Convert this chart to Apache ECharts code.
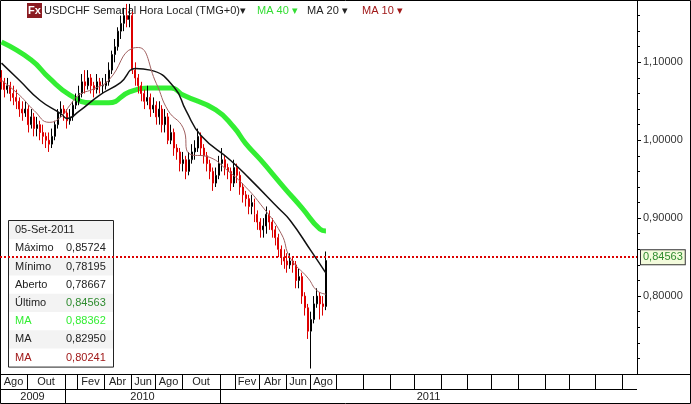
<!DOCTYPE html>
<html><head><meta charset="utf-8">
<script src="https://cdn.jsdelivr.net/npm/echarts@6/dist/echarts.min.js"></script>
<style>html,body{margin:0;padding:0;background:#fff}#c{width:691px;height:404px}</style>
</head><body><div id="c"></div>
<script>
const startDate = '2009-08-03';
const weekCount = 214;
const closes = [1.075,1.065,1.07,1.06,1.055,1.05,1.04,1.035,1.04,1.02,1.03,1.015,1.02,1.01,1.005,1.00,0.995,1.005,1.02,1.035,1.04,1.035,1.025,1.03,1.045,1.05,1.06,1.075,1.07,1.08,1.07,1.065,1.075,1.07,1.07,1.075,1.09,1.11,1.12,1.14,1.15,1.16,1.155,1.16,1.09,1.08,1.07,1.06,1.05,1.055,1.04,1.045,1.03,1.04,1.02,1.03,1.00,1.01,0.99,0.985,0.97,0.975,0.96,0.975,0.985,0.99,1.005,0.99,0.98,0.97,0.96,0.945,0.955,0.97,0.975,0.965,0.96,0.945,0.965,0.955,0.94,0.93,0.925,0.915,0.92,0.905,0.895,0.885,0.89,0.905,0.895,0.885,0.875,0.86,0.85,0.845,0.84,0.845,0.84,0.82,0.825,0.80,0.785,0.755,0.77,0.79,0.80,0.79,0.78667,0.84563];
const firstOpen = 1.08;
const highs = [1.09,1.08,1.08,1.075,1.07,1.065,1.055,1.05,1.05,1.045,1.04,1.035,1.03,1.025,1.02,1.01,1.01,1.015,1.025,1.04,1.05,1.045,1.04,1.04,1.05,1.06,1.07,1.085,1.09,1.09,1.085,1.075,1.085,1.08,1.08,1.085,1.10,1.115,1.13,1.145,1.16,1.17,1.175,1.175,1.165,1.10,1.085,1.075,1.065,1.07,1.06,1.055,1.05,1.05,1.045,1.04,1.035,1.02,1.015,0.995,0.99,0.985,0.98,0.985,0.995,1.00,1.015,1.01,0.995,0.985,0.975,0.965,0.965,0.98,0.99,0.98,0.97,0.965,0.975,0.97,0.96,0.945,0.935,0.93,0.93,0.925,0.91,0.90,0.90,0.915,0.91,0.90,0.89,0.88,0.865,0.86,0.855,0.855,0.85,0.845,0.835,0.83,0.805,0.79,0.78,0.80,0.81,0.805,0.80,0.85724];
const lows = [1.065,1.055,1.06,1.05,1.045,1.04,1.03,1.025,1.03,1.01,1.015,1.005,1.005,1.0,0.995,0.99,0.985,0.99,1.0,1.015,1.03,1.025,1.015,1.02,1.025,1.04,1.045,1.055,1.06,1.065,1.06,1.055,1.06,1.06,1.06,1.065,1.07,1.085,1.10,1.115,1.13,1.14,1.145,1.145,1.085,1.07,1.06,1.05,1.04,1.045,1.03,1.035,1.02,1.02,1.01,1.01,0.995,0.995,0.98,0.975,0.96,0.96,0.95,0.955,0.97,0.975,0.985,0.98,0.97,0.96,0.95,0.935,0.94,0.95,0.96,0.955,0.95,0.935,0.94,0.945,0.93,0.92,0.915,0.905,0.905,0.895,0.885,0.875,0.875,0.88,0.885,0.875,0.865,0.85,0.84,0.835,0.83,0.835,0.83,0.81,0.81,0.79,0.775,0.745,0.707,0.765,0.785,0.77,0.775,0.78195];
const ma40 = [[0,1.126],[9.6,1.103],[16.3,1.080],[23,1.058],[29.7,1.048],[36.4,1.048],[43.1,1.062],[49.8,1.067],[56.5,1.067],[60.9,1.058],[72.3,1.039],[77.7,1.017],[82.4,0.996],[86.7,0.975],[94.5,0.939],[101.2,0.913],[106.9,0.886],[109,0.88362]];
const ma20 = [[0,1.099],[6.2,1.077],[12.9,1.051],[19.6,1.034],[22.3,1.028],[26.3,1.037],[33,1.058],[39.8,1.074],[44.8,1.092],[49.8,1.090],[58.2,1.068],[62.3,1.038],[66.6,1.006],[76.7,0.974],[83.4,0.952],[92.5,0.913],[96.8,0.897],[103.5,0.858],[109,0.82950]];
const ma10 = [[0,1.077],[6.2,1.058],[11.2,1.038],[16.3,1.023],[19.6,1.030],[23,1.045],[26.3,1.058],[31.4,1.066],[36.4,1.077],[43.8,1.118],[45.5,1.119],[52.2,1.073],[55.5,1.038],[60.9,1.016],[63.3,0.983],[70,0.978],[75.7,0.961],[81.1,0.944],[86.7,0.918],[93.5,0.88],[96.8,0.849],[102.5,0.823],[105.9,0.807],[109,0.80241]];
const lastPrice = 0.84563;
const monthCells = [['2009-08','Ago'],['2009-10','Out'],['2010-01',''],['2010-02','Fev'],['2010-04','Abr'],['2010-06','Jun'],['2010-08','Ago'],['2010-10','Out'],['2011-01',''],['2011-02','Fev'],['2011-04','Abr'],['2011-06','Jun'],['2011-08','Ago'],['2011-10',''],['2011-12',''],['2012-02',''],['2012-04',''],['2012-06',''],['2012-08',''],['2012-10',''],['2012-12',''],['2013-02',''],['2013-04',''],['2013-06',''],['2013-08','']];
const yearCells = [['2009-08','2009'],['2010-01','2010'],['2011-01','2011']];
const infoRows = [['05-Set-2011','','#222'],['Máximo','0,85724','#222'],['Mínimo','0,78195','#222'],['Aberto','0,78667','#222'],['Último','0,84563','#2e8b2e'],['MA','0,88362','#33ee33'],['MA','0,82950','#222'],['MA','0,80241','#a01818']];

const dates = [];
{ const d0 = new Date(startDate + 'T00:00:00Z');
  for (let i = 0; i < weekCount; i++) { const d = new Date(d0.getTime() + i*7*864e5); dates.push(d.toISOString().slice(0,10)); } }
const ohlc = closes.map((c,i)=>[i===0?firstOpen:closes[i-1], c, lows[i], highs[i]]);
const fmt = v => v.toFixed(5).replace('.', ',');
const F = 'Liberation Sans, Arial, sans-serif';

const chart = echarts.init(document.getElementById('c'));
chart.setOption({
  animation:false,
  grid:{left:0,right:54,top:0,bottom:30},
  xAxis:{type:'category',data:dates,boundaryGap:true,show:false},
  yAxis:{type:'value',position:'right',min:0.7,max:1.18,interval:0.1,
    axisLine:{show:true,lineStyle:{color:'#000'}},
    axisTick:{show:true,length:4,lineStyle:{color:'#000'}},
    minorTick:{show:true,splitNumber:5,length:3,lineStyle:{color:'#000'}},
    splitLine:{show:false},
    axisLabel:{showMinLabel:false,showMaxLabel:false,color:'#333',fontFamily:F,fontSize:11,margin:6,formatter:v=>fmt(v)}},
  series:[
    {type:'candlestick',data:ohlc,barMaxWidth:3,
      itemStyle:{color:'#ffffff',color0:'#dd0000',borderColor:'#000',borderColor0:'#dd0000',borderWidth:1},
      markLine:{symbol:'none',silent:true,data:[{yAxis:lastPrice}],
        lineStyle:{color:'#dd0000',type:[2,2],width:2},
        label:{position:'end',distance:4,formatter:()=>fmt(lastPrice),color:'#2e8b2e',fontFamily:F,fontSize:11,
          backgroundColor:'#f3fbdc',borderColor:'#333',borderWidth:1,padding:[2,2,1,2]}}},
    {type:'line',data:ma40,smooth:true,symbol:'none',lineStyle:{color:'#33ee33',width:5,cap:'butt'},z:1},
    {type:'line',data:ma20,smooth:true,symbol:'none',lineStyle:{color:'#111',width:1.5}},
    {type:'line',data:ma10,smooth:true,symbol:'none',lineStyle:{color:'#a06060',width:1}}
  ]
});

function idxOf(ym){ return dates.findIndex(d=>d>=ym+'-01'); }
const p0 = chart.convertToPixel({xAxisIndex:0},0), p1 = chart.convertToPixel({xAxisIndex:0},1);
const band = p1-p0;
const gridRight = chart.convertToPixel({xAxisIndex:0},weekCount-1)+band/2;
function bx(ym){ const i=idxOf(ym); return i<0?gridRight:Math.round(chart.convertToPixel({xAxisIndex:0},i)-band/2); }
const yTop = chart.convertToPixel({yAxisIndex:0},0.7);
const g = [];
const r1 = Math.round(yTop)+0.5, r2 = r1+15, r3 = 403.5;
g.push({type:'line',shape:{x1:0,y1:r2,x2:gridRight,y2:r2},style:{stroke:'#000'}});
g.push({type:'line',shape:{x1:0,y1:r1,x2:690,y2:r1},style:{stroke:'#000'}});
monthCells.forEach((m,i)=>{
  const x0 = bx(m[0]); const x1 = i+1<monthCells.length?bx(monthCells[i+1][0]):gridRight;
  if (x0>0) g.push({type:'line',shape:{x1:x0+0.5,y1:r1,x2:x0+0.5,y2:r2},style:{stroke:'#000'}});
  if (m[1]) g.push({type:'text',x:(x0+Math.min(x1,gridRight))/2,y:(r1+r2)/2,style:{text:m[1],align:'center',verticalAlign:'middle',font:'11px '+F,fill:'#222'}});
});
yearCells.forEach((m,i)=>{
  const x0 = bx(m[0]); const x1 = i+1<yearCells.length?bx(yearCells[i+1][0]):Math.round(gridRight);
  if (x0>0) g.push({type:'line',shape:{x1:x0+0.5,y1:r2,x2:x0+0.5,y2:r3},style:{stroke:'#000'}});
  g.push({type:'text',x:(x0+x1)/2,y:(r2+r3)/2,style:{text:m[1],align:'center',verticalAlign:'middle',font:'11px '+F,fill:'#222'}});
});
g.push({type:'rect',shape:{x:0.5,y:0.5,width:690,height:403},style:{fill:'none',stroke:'#000'}});
// title
g.push({type:'rect',shape:{x:27,y:3,width:15,height:15},style:{fill:'#8b1c22'}});
g.push({type:'text',x:34.5,y:11,style:{text:'Fx',align:'center',verticalAlign:'middle',font:'bold 11px '+F,fill:'#fff'}});
g.push({type:'text',x:44,y:11,style:{text:'USDCHF Semanal Hora Local (TMG+0)▾',verticalAlign:'middle',font:'11px '+F,fill:'#222'}});
g.push({type:'text',x:257,y:11,style:{text:'MA 40 ▾',verticalAlign:'middle',font:'11px '+F,fill:'#33dd33'}});
g.push({type:'text',x:307,y:11,style:{text:'MA 20 ▾',verticalAlign:'middle',font:'11px '+F,fill:'#222'}});
g.push({type:'text',x:362,y:11,style:{text:'MA 10 ▾',verticalAlign:'middle',font:'11px '+F,fill:'#a01818'}});
// info box
const bxl=8, byt=221, rh=18.2;
infoRows.forEach((r,i)=>{
  if (i%2===0) g.push({type:'rect',shape:{x:bxl,y:byt+i*rh,width:105,height:rh},style:{fill:'#f3f3f3'}});
  g.push({type:'text',x:bxl+7,y:byt+i*rh+rh/2,style:{text:r[0],verticalAlign:'middle',font:'11px '+F,fill:i>=5?r[2]:'#222'}});
  if (r[1]) g.push({type:'text',x:bxl+58,y:byt+i*rh+rh/2,style:{text:r[1],verticalAlign:'middle',font:'11px '+F,fill:r[2]}});
});
g.push({type:'rect',shape:{x:bxl+0.5,y:byt-0.5,width:105,height:infoRows.length*rh+1},style:{fill:'none',stroke:'#222'}});
chart.setOption({graphic:g});
</script></body></html>
